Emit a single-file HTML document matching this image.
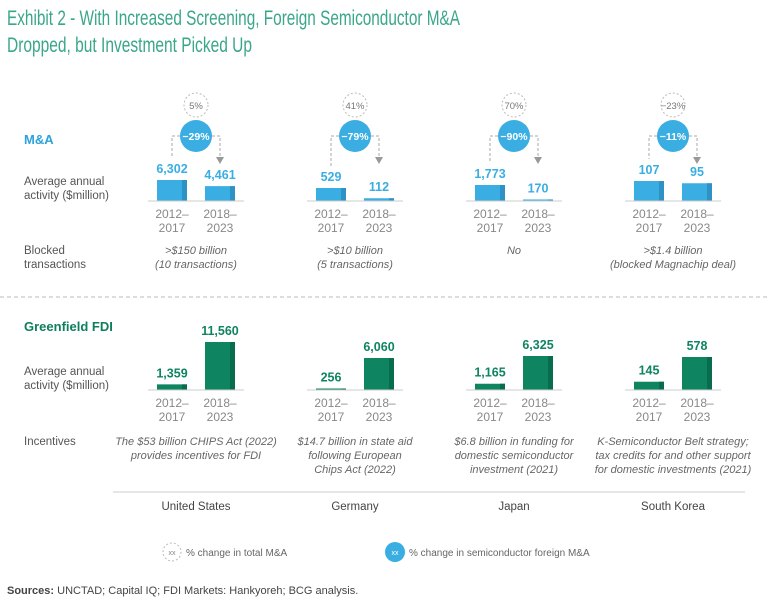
<!DOCTYPE html>
<html><head><meta charset="utf-8"><style>
body{margin:0;background:#fff;width:768px;height:610px;overflow:hidden;font-family:"Liberation Sans",sans-serif}
svg{display:block}
</style></head><body>
<svg id="c" width="768" height="610" xmlns="http://www.w3.org/2000/svg">
<text x="7" y="25" font-size="21" fill="#3aa68a" textLength="453" lengthAdjust="spacingAndGlyphs">Exhibit 2 - With Increased Screening, Foreign Semiconductor M&amp;A</text>
<text x="7" y="52" font-size="21" fill="#3aa68a" textLength="245" lengthAdjust="spacingAndGlyphs">Dropped, but Investment Picked Up</text>
<text x="24" y="144" font-size="13" font-weight="bold" fill="#2aa3dc">M&amp;A</text>
<text x="24" y="185" font-size="11.5" fill="#555">Average annual</text>
<text x="24" y="199" font-size="11.5" fill="#555">activity ($million)</text>
<text x="24" y="254" font-size="11.5" fill="#555">Blocked</text>
<text x="24" y="268" font-size="11.5" fill="#555">transactions</text>
<line x1="0" y1="297" x2="768" y2="297" stroke="#bbb" stroke-dasharray="4,3"/>
<text x="24" y="331" font-size="13" font-weight="bold" fill="#0e7f5c">Greenfield FDI</text>
<text x="24" y="375" font-size="11.5" fill="#555">Average annual</text>
<text x="24" y="389" font-size="11.5" fill="#555">activity ($million)</text>
<text x="24" y="445" font-size="11.5" fill="#555">Incentives</text>
<line x1="113" y1="492" x2="745" y2="492" stroke="#ccc"/>
<circle cx="172" cy="552" r="9" fill="none" stroke="#bbb" stroke-dasharray="2,2"/>
<text x="172" y="555" font-size="7" fill="#888" text-anchor="middle">xx</text>
<text x="186" y="556" font-size="10" fill="#666">% change in total M&amp;A</text>
<circle cx="395" cy="552" r="10" fill="#3aaee2"/>
<text x="395" y="555" font-size="7" fill="#fff" text-anchor="middle">xx</text>
<text x="409" y="556" font-size="10" fill="#666">% change in semiconductor foreign M&amp;A</text>
<text x="7" y="594" font-size="11" fill="#444"><tspan font-weight="bold">Sources:</tspan> UNCTAD; Capital IQ; FDI Markets: Hankyoreh; BCG analysis.</text>
</svg>
<script>
const countries=["United States","Germany","Japan","South Korea"];
const maEarly=[6302,529,1773,107];
const maLate=[4461,112,170,95];
const fdiEarly=[1359,256,1165,145];
const fdiLate=[11560,6060,6325,578];
const totalChange=["5%","41%","70%","\u221223%"];
const semiChange=["\u221229%","\u221279%","\u221290%","\u221211%"];
const blocked=[[">$150 billion","(10 transactions)"],[">$10 billion","(5 transactions)"],["No"],[">$1.4 billion","(blocked Magnachip deal)"]];
const incentives=[["The $53 billion CHIPS Act (2022)","provides incentives for FDI"],["$14.7 billion in state aid","following European","Chips Act (2022)"],["$6.8 billion in funding for","domestic semiconductor","investment (2021)"],["K-Semiconductor Belt strategy;","tax credits for and other support","for domestic investments (2021)"]];
const maMaxH=[21,13,16,20];
const fdiMaxH=[48,32,34,33];
const svg=document.getElementById('c');
const NS="http://www.w3.org/2000/svg";
function mk(t,a,txt){const e=document.createElementNS(NS,t);for(const k in a)e.setAttribute(k,a[k]);if(txt!==undefined)e.textContent=txt;svg.appendChild(e);return e;}
function colX(i){return 157+159*i;}
function drawBars(vals1,vals2,maxH,base,col,dark,pre,i){
  const m=Math.max(vals1[i],vals2[i]);
  [vals1[i],vals2[i]].forEach((v,j)=>{
    const h=Math.max(1.5,v/m*maxH[i]);const x=colX(i)+48*j;
    const r=mk('rect',{x:x,y:base-h,width:30,height:h,fill:col});
    
    
    mk('rect',{x:x+25,y:base-h,width:5,height:h,fill:dark});
    const t=mk('text',{x:x+15,y:base-h-7,'font-size':12.5,'font-weight':'bold',fill:col,'text-anchor':'middle'},v.toLocaleString('en-US'));
    
    
  });
  mk('line',{x1:colX(i)-9,y1:base,x2:colX(i)+87,y2:base,stroke:'#ccc'});
  ['2012\u2013','2018\u2013'].forEach((s,j)=>{
    mk('text',{x:colX(i)+15+48*j,y:base+17,'font-size':12,fill:'#888','text-anchor':'middle'},s);
    mk('text',{x:colX(i)+15+48*j,y:base+31,'font-size':12,fill:'#888','text-anchor':'middle'},j?'2023':'2017');
  });
}
countries.forEach((c,i)=>{
  const cx=colX(i)+39;
  drawBars(maEarly,maLate,maMaxH,201,'#3aaee2','#2e93c4','ma',i);
  drawBars(fdiEarly,fdiLate,fdiMaxH,390,'#0e8460','#0a6c4e','fdi',i);
  const m=Math.max(maEarly[i],maLate[i]);
  const top1=201-maEarly[i]/m*maMaxH[i]-22;
  mk('path',{d:`M${cx-16} 136 H${colX(i)+15} V${top1}`,fill:'none',stroke:'#aaa','stroke-dasharray':'3,2'});
  mk('path',{d:`M${cx+16} 136 H${colX(i)+63} V158`,fill:'none',stroke:'#aaa','stroke-dasharray':'3,2'});
  mk('path',{d:`M${colX(i)+59} 157 L${colX(i)+67} 157 L${colX(i)+63} 164 Z`,fill:'#999'});
  const dc=mk('circle',{cx:cx,cy:105,r:12,fill:'#fff',stroke:'#bbb','stroke-dasharray':'2,2'});
  
  
  mk('text',{x:cx,y:109,'font-size':9.5,fill:'#777','text-anchor':'middle'},totalChange[i]);
  const bc=mk('circle',{cx:cx,cy:136,r:16,fill:'#3aaee2'});
  
  
  mk('text',{x:cx,y:140,'font-size':10.5,'font-weight':'bold',fill:'#fff','text-anchor':'middle'},semiChange[i]);
  blocked[i].forEach((s,k)=>mk('text',{x:cx,y:254+14*k,'font-size':11,'font-style':'italic',fill:'#666','text-anchor':'middle'},s));
  incentives[i].forEach((s,k)=>mk('text',{x:cx,y:445+14*k,'font-size':11,'font-style':'italic',fill:'#666','text-anchor':'middle'},s));
  const cn=mk('text',{x:cx,y:510,'font-size':11.5,fill:'#444','text-anchor':'middle'},c);
  
  
});
</script>
</body></html>
